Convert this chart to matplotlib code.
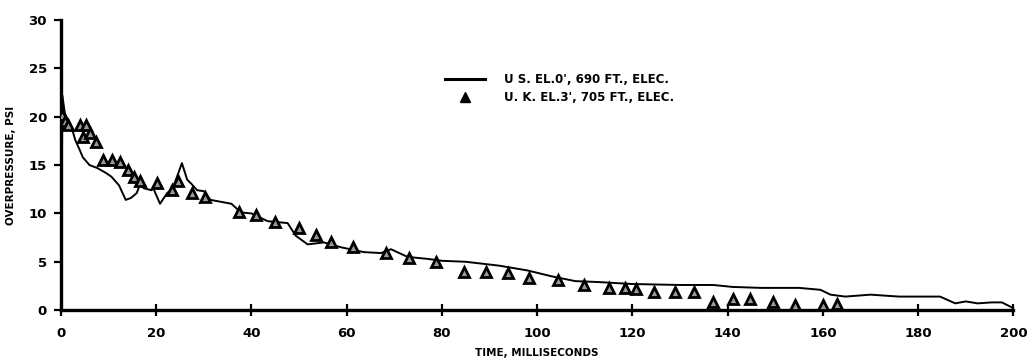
import matplotlib.pyplot as plt
from matplotlib.lines import Line2D

# U.S. gauge trace, elevation 0 ft, 690 ft ground range (time ms, overpressure psi)
us_time = [0.0, 0.3, 0.8, 1.5, 2.3, 3.0, 4.0, 4.6, 6.0, 7.6, 9.4, 10.6, 12.2, 13.6,
           14.7, 15.9, 16.6, 17.4, 19.0, 19.4, 20.8, 22.3, 23.5, 25.4, 26.5, 27.5,
           28.6, 30.0, 31.4, 33.6, 35.8, 37.8, 40.0, 43.4, 47.6, 49.3, 51.8, 55.2,
           58.8, 63.6, 67.2, 69.3, 72.8, 77.0, 80.0, 85.0, 92.0, 98.0, 103.0,
           108.0, 113.0, 120.0, 130.0, 137.0, 141.0, 147.0, 155.0, 159.5, 161.6,
           164.7, 170.0, 176.0, 184.6, 187.8, 190.0, 192.5, 195.5, 197.6, 200.0]
us_psi = [0.0, 22.2, 20.4, 19.5, 18.8, 17.6, 16.5, 15.8, 15.0, 14.7, 14.2, 13.8, 12.9,
          11.4, 11.6, 12.1, 13.0, 12.6, 12.4, 12.6, 11.0, 12.1, 12.6, 15.2, 13.5,
          13.0, 12.4, 12.3, 11.4, 11.2, 11.0, 10.1, 10.0, 9.2, 9.0, 7.7, 6.8, 7.0,
          6.5, 6.0, 5.9, 6.3, 5.5, 5.3, 5.1, 5.0, 4.6, 4.1, 3.5, 3.0, 2.9, 2.7,
          2.6, 2.6, 2.4, 2.3, 2.3, 2.1, 1.6, 1.4, 1.6, 1.4, 1.4, 0.7, 0.9, 0.7,
          0.8, 0.8, 0.2]

# U.K. gauge readings, elevation 3 ft, 705 ft ground range
uk_time = [0.2, 0.9, 1.5, 3.9, 4.6, 5.3, 6.0, 7.4, 8.8, 10.7, 12.3, 14.0, 15.4,
           16.5, 20.2, 23.3, 24.6, 27.5, 30.3, 37.3, 41.0, 45.0, 50.0, 53.5, 56.7,
           61.3, 68.2, 73.0, 78.7, 84.6, 89.2, 93.8, 98.2, 104.3, 109.8, 115.0,
           118.4, 120.7, 124.5, 129.0, 133.0, 137.0, 141.2, 144.6, 149.5, 154.2,
           160.1, 163.0]
uk_psi = [20.2, 19.6, 19.1, 19.1, 17.9, 19.1, 18.3, 17.4, 15.5, 15.5, 15.3, 14.5,
          13.8, 13.4, 13.1, 12.4, 13.4, 12.1, 11.7, 10.1, 9.8, 9.1, 8.5, 7.8, 7.0,
          6.5, 5.9, 5.4, 5.0, 3.9, 3.9, 3.8, 3.3, 3.1, 2.6, 2.3, 2.3, 2.2, 1.9,
          1.9, 1.9, 0.8, 1.1, 1.1, 0.8, 0.5, 0.5, 0.6]

x_ticks = [0, 20, 40, 60, 80, 100, 120, 140, 160, 180, 200]
y_ticks = [0, 5, 10, 15, 20, 25, 30]

us_label = "U S. EL.0', 690 FT., ELEC."
uk_label = "U. K. EL.3', 705 FT., ELEC."

plt.rcParams['font.family'] = ['DejaVu Sans']
plt.rcParams['font.weight'] = 'bold'

fig = plt.figure(figsize=(10.33, 3.64), dpi=100)
ax = fig.add_axes([0.059, 0.148, 0.922, 0.797])

ax.plot(us_time, us_psi, color='black', lw=1.4, zorder=3)
ax.plot(uk_time, uk_psi, ls='none', marker='^', ms=7.5, mfc='#9a9a9a',
        mec='black', mew=2.0, zorder=4)

ax.set_xlim(0, 200)
ax.set_ylim(0, 30)
ax.set_xticks(x_ticks)
ax.set_yticks(y_ticks)
ax.tick_params(axis='both', labelsize=9.5, width=1.6, length=5, color='black')
ax.tick_params(axis='x', direction='inout', length=8, pad=8)
ax.tick_params(axis='y', direction='out', pad=5)
for lab in ax.get_xticklabels() + ax.get_yticklabels():
    lab.set_fontweight('bold')

for side in ('top', 'right'):
    ax.spines[side].set_visible(False)
for side in ('left', 'bottom'):
    ax.spines[side].set_linewidth(2.4)

ax.set_xlabel('TIME, MILLISECONDS', fontsize=7.5, fontweight='bold', labelpad=6)
ax.set_ylabel('OVERPRESSURE, PSI', fontsize=7.5, fontweight='bold')
ax.yaxis.set_label_coords(-0.047, 0.5)

handles = [
    Line2D([], [], color='black', lw=2.2),
    Line2D([], [], ls='none', marker='^', ms=7.5, mfc='black', mec='black'),
]
ax.legend(handles, [us_label, uk_label], loc='upper left',
          bbox_to_anchor=(0.392, 0.855), frameon=False,
          handlelength=3.4, handletextpad=1.6, labelspacing=0.45,
          prop={'weight': 'bold', 'size': 8.5})

fig.savefig('out.png', dpi=100, facecolor='white')
